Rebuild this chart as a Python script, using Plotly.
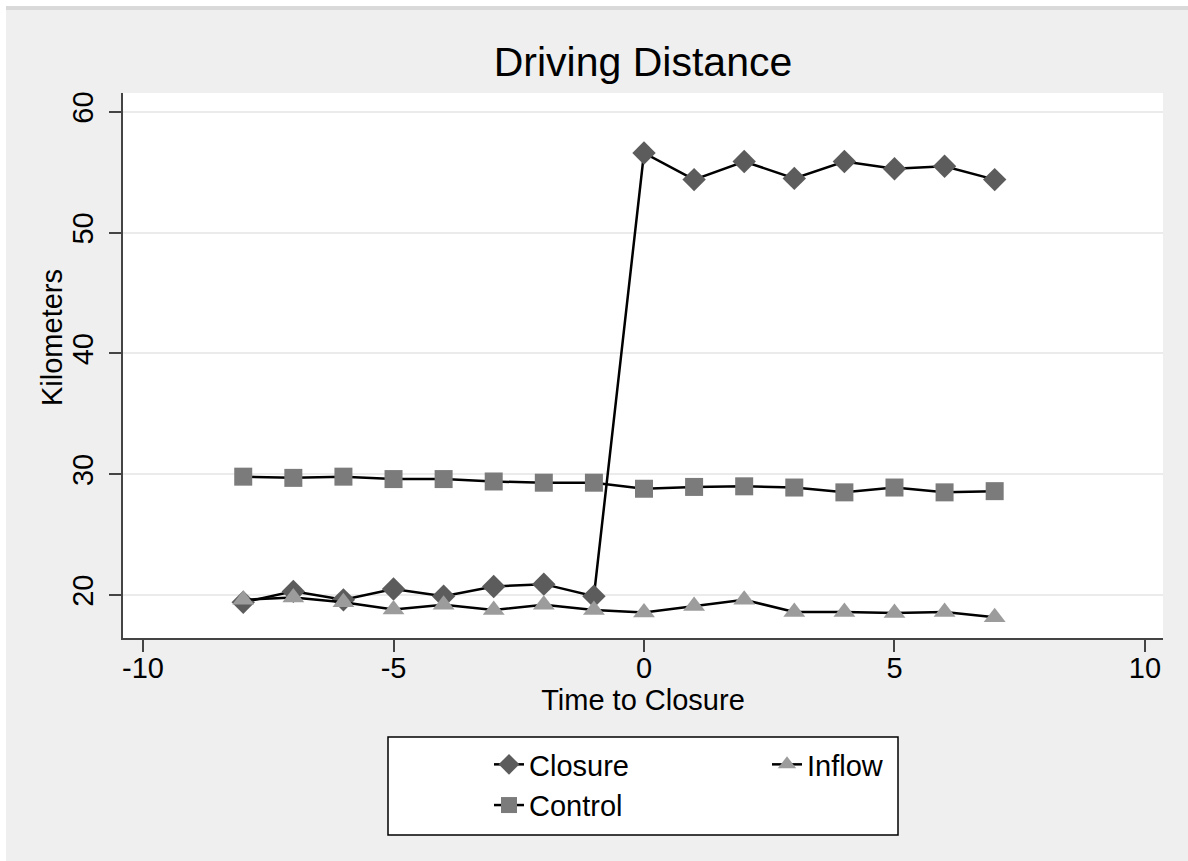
import plotly.graph_objects as go

# Event time relative to the closure
time_to_closure = [-8, -7, -6, -5, -4, -3, -2, -1, 0, 1, 2, 3, 4, 5, 6, 7]

# Mean driving distance (km) by group
closure_km = [19.4, 20.3, 19.6, 20.5, 19.9, 20.7, 20.9, 19.9,
              56.6, 54.4, 55.9, 54.5, 55.9, 55.3, 55.5, 54.4]
inflow_km = [19.6, 19.8, 19.4, 18.8, 19.2, 18.75, 19.2, 18.75,
             18.55, 19.1, 19.6, 18.6, 18.6, 18.5, 18.6, 18.15]
control_km = [29.8, 29.7, 29.8, 29.6, 29.6, 29.4, 29.3, 29.3,
              28.8, 28.95, 29.0, 28.9, 28.5, 28.9, 28.5, 28.6]

x_ticks = [-10, -5, 0, 5, 10]
y_ticks = [20, 30, 40, 50, 60]

FONT = "Liberation Sans, Arial, sans-serif"
FS = 29
LINE = dict(color="black", width=2.5)

fig = go.Figure()
fig.add_trace(go.Scatter(
    x=time_to_closure, y=closure_km, name="Closure", mode="lines+markers",
    line=LINE, marker=dict(symbol="diamond", size=18, color="#5c5c5c"),
    legend="legend",
))
fig.add_trace(go.Scatter(
    x=time_to_closure, y=control_km, name="Control", mode="lines+markers",
    line=LINE, marker=dict(symbol="square", size=18, color="#7b7b7b"),
    legend="legend",
))
fig.add_trace(go.Scatter(
    x=time_to_closure, y=inflow_km, name="Inflow", mode="lines+markers",
    line=LINE, marker=dict(symbol="triangle-up", size=19, color="#9c9c9c"),
    legend="legend2",
))

# Pixel geometry of the plot area -> paper coordinates for decorations
W, H = 1188, 861
L, R, T, B = 123, 25, 93, 223
pw, ph = W - L - R, H - T - B


def px(xp):
    return (xp - L) / pw


def py(yp):
    return (H - B - yp) / ph


shapes = [
    # legend frame
    dict(type="rect", xref="paper", yref="paper",
         x0=px(388), x1=px(898), y0=py(835), y1=py(737),
         fillcolor="white", line=dict(color="black", width=1.5), layer="above"),
    # outer border strips
    dict(type="rect", xref="paper", yref="paper",
         x0=px(0), x1=px(W), y0=py(6), y1=py(0),
         fillcolor="white", line=dict(width=0), layer="below"),
    dict(type="rect", xref="paper", yref="paper",
         x0=px(6), x1=px(W), y0=py(10), y1=py(6),
         fillcolor="#d9d9d9", line=dict(width=0), layer="below"),
    dict(type="rect", xref="paper", yref="paper",
         x0=px(0), x1=px(6), y0=py(H), y1=py(0),
         fillcolor="white", line=dict(width=0), layer="below"),
]

annotations = [
    dict(text="Kilometers", textangle=-90, xref="paper", yref="paper",
         x=px(52), y=py(338), xanchor="center", yanchor="middle",
         showarrow=False, font=dict(family=FONT, size=FS, color="black")),
]

legend_common = dict(
    bgcolor="rgba(0,0,0,0)", borderwidth=0,
    font=dict(family=FONT, size=FS, color="black"),
    orientation="v", xanchor="left", yanchor="top",
    itemwidth=30, tracegroupgap=0,
)

fig.update_layout(
    width=W, height=H,
    margin=dict(l=L, r=R, t=T, b=B, pad=0),
    paper_bgcolor="#efefef",
    plot_bgcolor="white",
    font=dict(family=FONT, size=FS, color="black"),
    title=dict(text="Driving Distance", x=0.5, xref="paper", xanchor="center",
               y=1 - 62 / H, yref="container", yanchor="middle",
               font=dict(family=FONT, size=41, color="black")),
    xaxis=dict(
        range=[-10.4, 10.36], tickvals=x_ticks, ticktext=[str(v) for v in x_ticks],
        showgrid=False, zeroline=False,
        showline=True, linecolor="#444444", linewidth=2,
        ticks="outside", ticklen=12, tickwidth=2, tickcolor="#444444",
        ticklabelstandoff=-9,
        tickfont=dict(family=FONT, size=FS),
        title=dict(text="Time to Closure", standoff=0,
                   font=dict(family=FONT, size=FS)),
        automargin=False,
    ),
    yaxis=dict(
        range=[16.44, 61.57], tickvals=y_ticks, ticktext=[str(v) for v in y_ticks],
        showgrid=True, gridcolor="#ebebeb", gridwidth=2, zeroline=False,
        showline=True, linecolor="#444444", linewidth=2,
        ticks="outside", ticklen=12, tickwidth=2, tickcolor="#444444",
        tickangle=-90, ticklabelstandoff=4,
        tickfont=dict(family=FONT, size=FS),
        automargin=False,
    ),
    legend=dict(x=px(489), y=py(739), **legend_common),
    legend2=dict(x=px(767), y=py(739), **legend_common),
    shapes=shapes,
    annotations=annotations,
    showlegend=True,
)

fig.write_html("out.html")
